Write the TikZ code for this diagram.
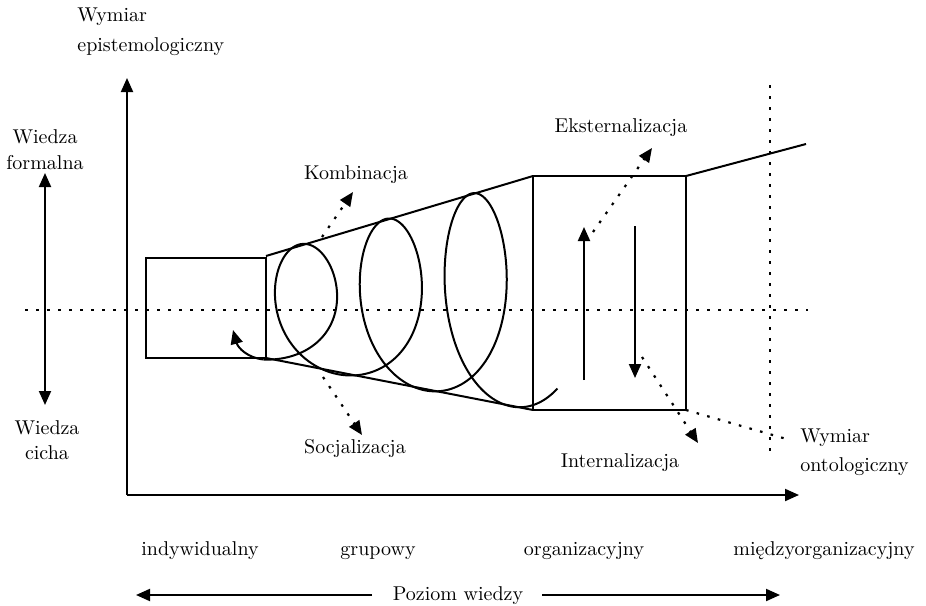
\documentclass[tikz,border=0pt]{standalone}
\usetikzlibrary{arrows.meta}
\begin{document}
\begin{tikzpicture}[x=0.5pt,y=-0.5pt,
  ln/.style={line width=1pt},
  dots/.style={line width=1.1pt, dash pattern=on 1.3pt off 4.2pt},
  tip/.style={-{Triangle[length=7pt,width=6pt]}},
  dtip/.style={{Triangle[length=7pt,width=6pt]}-{Triangle[length=7pt,width=6pt]}},
  lbl/.style={font=\fontsize{10}{12}\selectfont, inner sep=0pt, align=center}]
\useasboundingbox (0,0) rectangle (926,605);

% axes
\coordinate (O) at (127,495);
\coordinate (Ytop) at (127,78);
\coordinate (Xend) at (799,495);
\draw[ln, tip] (O) -- (Ytop);
\draw[ln, tip] (O) -- (Xend);

% dotted reference lines
\coordinate (hL) at (25,310);
\coordinate (hR) at (808,310);
\coordinate (vT) at (770,85);
\coordinate (vB) at (770,452);
\draw[dots] (hL) -- (hR);
\draw[dots] (vT) -- (vB);

% labels left
\node[lbl, align=left, anchor=west, font=\fontsize{10}{15}\selectfont] (epi) at (77,32) {Wymiar\\epistemologiczny};
\node[lbl, font=\fontsize{10}{13}\selectfont] (wf) at (45,150) {Wiedza\\formalna};
\node[lbl, font=\fontsize{10}{12.5}\selectfont] (wc) at (47,440) {Wiedza\\cicha};
\coordinate (wfA) at (45,173);
\coordinate (wcA) at (45,405);
\draw[ln, dtip] (wfA) -- (wcA);

% boxes
\coordinate (r1a) at (146,258);
\coordinate (r1b) at (266,358);
\draw[ln] (r1a) rectangle (r1b);
\coordinate (tTL) at (266,256);
\coordinate (tTR) at (533,176);
\coordinate (tBL) at (266,358);
\coordinate (tBR) at (533,410);
\draw[ln] (tTL) -- (tTR);
\draw[ln] (tBL) -- (tBR);
\coordinate (r2b) at (686,410);
\draw[ln] (tTR) rectangle (r2b);
\coordinate (r2TR) at (686,176);
\coordinate (extE) at (806,144);
\draw[ln] (r2TR) -- (extE);

% spiral
\draw[ln] plot[domain=0:19.45, samples=600, variable=\t]
  ({263.6+13.5*\t+51.5*sin(\t r)+2.25*sin(2*\t r)},
   {308-0.05618*(13.5*\t-2.4)+(52+0.24345*(13.5*\t-2.4))*cos(\t r)});
\coordinate (s0) at (263.6,359.5);
\coordinate (sA) at (233,330);
\draw[ln, tip] (s0) .. controls (248,358) and (238,348) .. (sA);

% up and down arrows
\coordinate (uB) at (584,380);
\coordinate (uT) at (584,227);
\coordinate (dT) at (635,226);
\coordinate (dB) at (635,378);
\draw[ln, tip] (uB) -- (uT);
\draw[ln, tip] (dT) -- (dB);

% mode labels and dotted arrows
\node[lbl] (komb) at (356,175) {Kombinacja};
\node[lbl] (eks) at (621,128) {Eksternalizacja};
\node[lbl] (int) at (620,463) {Internalizacja};
\node[lbl] (soc) at (355,448) {Socjalizacja};
\coordinate (k0) at (322,237); \coordinate (k1) at (353,192);
\coordinate (e0) at (593,232); \coordinate (e1) at (652,148);
\coordinate (i0) at (642,357); \coordinate (i1) at (698,443);
\coordinate (so0) at (323,377); \coordinate (so1) at (362,435);
\draw[dots, tip] (k0) -- (k1);
\draw[dots, tip] (e0) -- (e1);
\draw[dots, tip] (i0) -- (i1);
\draw[dots, tip] (so0) -- (so1);

% ontological dimension
\node[lbl, align=left, anchor=west, font=\fontsize{10}{14.5}\selectfont] (ont) at (800,452) {Wymiar\\ontologiczny};
\coordinate (o1) at (790,440);
\draw[dots] (r2b) -- (o1);

% level labels
\node[lbl, anchor=base] (l1) at (200,555) {indywidualny};
\node[lbl, anchor=base] (l2) at (378,555) {grupowy};
\node[lbl, anchor=base] (l3) at (584,555) {organizacyjny};
\node[lbl, anchor=base] (l4) at (824,555) {międzyorganizacyjny};

% Poziom wiedzy
\node[lbl, anchor=base] (pw) at (458,600) {Poziom wiedzy};
\coordinate (pL0) at (372,595); \coordinate (pL1) at (136,595);
\coordinate (pR0) at (542,595); \coordinate (pR1) at (780,595);
\draw[ln, tip] (pL0) -- (pL1);
\draw[ln, tip] (pR0) -- (pR1);
\end{tikzpicture}
\end{document}
